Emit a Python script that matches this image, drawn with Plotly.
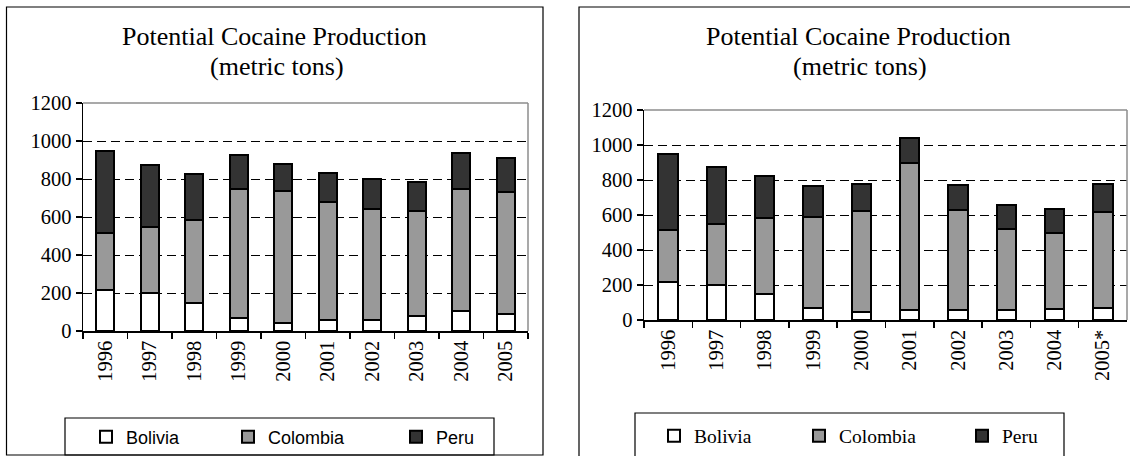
import plotly.graph_objects as go

W, H = 1130, 456

years_left = ["1996", "1997", "1998", "1999", "2000", "2001", "2002", "2003", "2004", "2005"]
bolivia_left = [215, 200, 150, 70, 43, 60, 60, 79, 107, 90]
colombia_left = [300, 350, 435, 680, 695, 617, 580, 550, 640, 640]
peru_left = [435, 325, 240, 175, 141, 154, 160, 155, 190, 180]

years_right = ["1996", "1997", "1998", "1999", "2000", "2001", "2002", "2003", "2004", "2005*"]
bolivia_right = [215, 200, 150, 70, 43, 60, 60, 60, 65, 70]
colombia_right = [300, 350, 435, 520, 580, 839, 570, 460, 430, 545]
peru_right = [435, 325, 240, 175, 155, 140, 140, 140, 140, 165]

y_ticks = [0, 200, 400, 600, 800, 1000, 1200]
title_line1 = "Potential Cocaine Production"
title_line2 = "(metric tons)"
series_names = ["Bolivia", "Colombia", "Peru"]
series_colors = ["#ffffff", "#999999", "#333333"]

SERIF = "Liberation Serif"
SANS = "Liberation Sans"


def px(x):
    return x / W


def py(y):
    return 1 - y / H


fig = go.Figure()

left_vals = [bolivia_left, colombia_left, peru_left]
right_vals = [bolivia_right, colombia_right, peru_right]
left_widths = [97, 123, 60]
right_widths = [100, 118, 60]

for name, color, vals, lw in zip(series_names, series_colors, left_vals, left_widths):
    fig.add_trace(go.Bar(
        x=years_left, y=vals, name=name, xaxis="x", yaxis="y",
        marker=dict(color=color, line=dict(color="black", width=2)),
        legend="legend", legendwidth=lw, hoverinfo="skip",
    ))

for name, color, vals, lw in zip(series_names, series_colors, right_vals, right_widths):
    fig.add_trace(go.Bar(
        x=years_right, y=vals, name=name, xaxis="x2", yaxis="y2",
        marker=dict(color=color, line=dict(color="black", width=2)),
        legend="legend2", legendwidth=lw, hoverinfo="skip",
    ))

xcommon = dict(
    type="category", showline=True, linecolor="black", linewidth=1.5,
    ticks="outside", ticklen=6, tickwidth=1.5, tickcolor="black",
    tickson="boundaries", tickangle=-90,
    tickfont=dict(family=SERIF, size=20.5, color="black"),
    showgrid=False, zeroline=False, fixedrange=True, automargin=False,
)
ycommon = dict(
    range=[0, 1200], tickvals=y_ticks, showline=True, linecolor="black",
    linewidth=1.5, ticks="outside", ticklen=6, tickwidth=1.5, tickcolor="black",
    tickfont=dict(family=SERIF, size=20.5, color="black"),
    showgrid=True, gridcolor="black", gridwidth=1, griddash="9px,5px",
    zeroline=False, fixedrange=True, automargin=False,
)

fig.update_layout(
    width=W, height=H,
    margin=dict(l=0, r=0, t=0, b=0, autoexpand=False),
    paper_bgcolor="white", plot_bgcolor="white",
    barmode="stack", bargap=0.6,
    xaxis=dict(domain=[px(83), px(528)], anchor="y", **xcommon),
    yaxis=dict(domain=[py(331), py(103)], anchor="x", **ycommon),
    xaxis2=dict(domain=[px(644), px(1127)], anchor="y2", **xcommon),
    yaxis2=dict(domain=[py(320), py(110)], anchor="x2", **ycommon),
    legend=dict(
        orientation="h", x=px(86), y=py(437), xanchor="left", yanchor="middle",
        font=dict(family=SANS, size=18, color="black"),
        bgcolor="rgba(0,0,0,0)", borderwidth=0, traceorder="normal",
        entrywidthmode="pixels",
    ),
    legend2=dict(
        orientation="h", x=px(654), y=py(436), xanchor="left", yanchor="middle",
        font=dict(family=SERIF, size=19.5, color="black"),
        bgcolor="rgba(0,0,0,0)", borderwidth=0, traceorder="normal",
        entrywidthmode="pixels",
    ),
    showlegend=True,
)

shapes = [
    # panel borders
    dict(type="rect", xref="paper", yref="paper", x0=px(6.5), x1=px(543), y0=py(455), y1=py(7),
         line=dict(color="black", width=1.2), fillcolor="rgba(0,0,0,0)", layer="below"),
    dict(type="rect", xref="paper", yref="paper", x0=px(579), x1=px(1150), y0=py(480), y1=py(7),
         line=dict(color="black", width=1.2), fillcolor="rgba(0,0,0,0)", layer="below"),
    # legend boxes
    dict(type="rect", xref="paper", yref="paper", x0=px(65), x1=px(494), y0=py(455), y1=py(418),
         line=dict(color="black", width=1.2), fillcolor="rgba(0,0,0,0)", layer="below"),
    dict(type="rect", xref="paper", yref="paper", x0=px(635), x1=px(1064), y0=py(480), y1=py(413),
         line=dict(color="black", width=1.2), fillcolor="rgba(0,0,0,0)", layer="below"),
]
for xa, ya in (("x", "y"), ("x2", "y2")):
    shapes.append(dict(type="line", xref=f"{xa} domain", yref=f"{ya} domain", x0=0, x1=1, y0=1, y1=1,
                       line=dict(color="#8c8c8c", width=1.5), layer="above"))
    shapes.append(dict(type="line", xref=f"{xa} domain", yref=f"{ya} domain", x0=1, x1=1, y0=0, y1=1,
                       line=dict(color="#8c8c8c", width=1.5), layer="above"))
fig.update_layout(shapes=shapes)

annotations = []
for cx in (274.5, 858):
    annotations.append(dict(text=title_line1, xref="paper", yref="paper", x=px(cx), y=py(36),
                            xanchor="center", yanchor="middle", showarrow=False,
                            font=dict(family=SERIF, size=26, color="black")))
    annotations.append(dict(text=title_line2, xref="paper", yref="paper", x=px(cx + 2), y=py(66),
                            xanchor="center", yanchor="middle", showarrow=False,
                            font=dict(family=SERIF, size=26, color="black")))
fig.update_layout(annotations=annotations)

fig.write_html(
    "out.html",
    config={"displayModeBar": False, "staticPlot": True},
    post_script="document.body.style.margin='0';document.body.style.overflow='hidden';",
)
